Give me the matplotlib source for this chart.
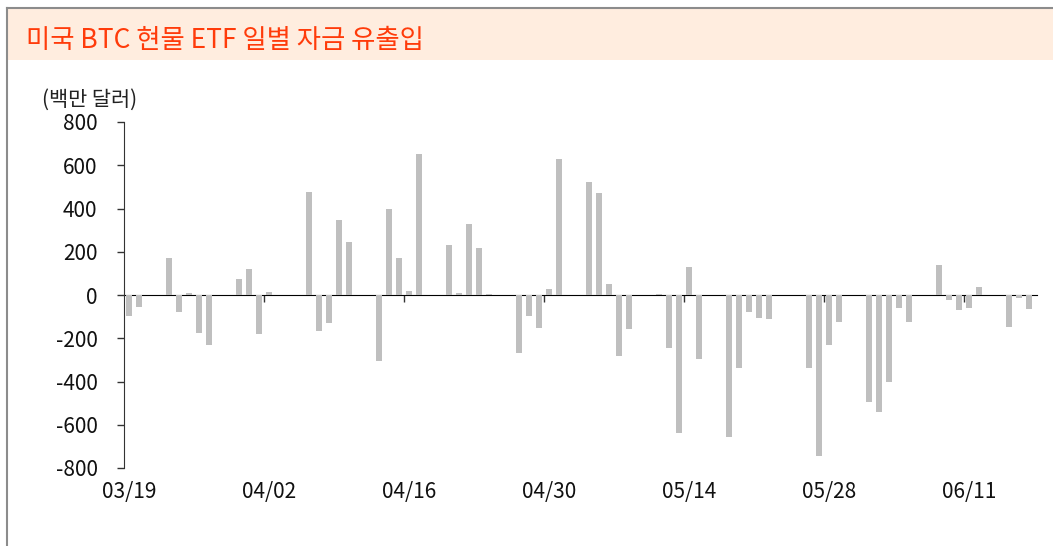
import matplotlib
matplotlib.use('Agg')
import matplotlib.pyplot as plt
from matplotlib.patches import Rectangle
from matplotlib.lines import Line2D
import pandas as pd

plt.rcParams['font.family'] = ['Noto Sans CJK KR', 'DejaVu Sans']

# 일별 자금 유출입 (백만 달러), 거래일 기준
dates = ['03/19', '03/20', '03/23', '03/24', '03/25', '03/26', '03/27',
         '03/30', '03/31', '04/01', '04/02',
         '04/06', '04/07', '04/08', '04/09', '04/10',
         '04/13', '04/14', '04/15', '04/16', '04/17',
         '04/20', '04/21', '04/22', '04/23', '04/24',
         '04/27', '04/28', '04/29', '04/30', '05/01',
         '05/04', '05/05', '05/06', '05/07', '05/08',
         '05/11', '05/12', '05/13', '05/14', '05/15',
         '05/18', '05/19', '05/20', '05/21', '05/22',
         '05/26', '05/27', '05/28', '05/29',
         '06/01', '06/02', '06/03', '06/04', '06/05',
         '06/08', '06/09', '06/10', '06/11', '06/12',
         '06/15', '06/16', '06/17']
flows = [-95, -54, 172, -78, 10, -177, -231,
         72, 121, -180, 12,
         477, -166, -128, 348, 245,
         -303, 400, 171, 17, 654,
         229, 11, 328, 218, 6,
         -268, -95, -154, 28, 631,
         524, 471, 51, -281, -157,
         3, -245, -637, 129, -295,
         -655, -337, -77, -106, -111,
         -338, -744, -229, -123,
         -495, -540, -403, -60, -123,
         140, -22, -71, -60, 35,
         -146, -14, -63]
tick_labels = ['03/19', '04/02', '04/16', '04/30', '05/14', '05/28', '06/11']
y_ticks = [-800, -600, -400, -200, 0, 200, 400, 600, 800]

title = '미국 BTC 현물 ETF 일별 자금 유출입'
unit = '(백만 달러)'

start = pd.to_datetime('2026/' + dates[0])
x = [(pd.to_datetime('2026/' + d) - start).days for d in dates]
tick_x = [(pd.to_datetime('2026/' + d) - start).days for d in tick_labels]

W, H = 1053, 546
fig = plt.figure(figsize=(W / 100, H / 100), dpi=100)

# 상단 제목 띠 + 테두리
fig.add_artist(Rectangle((8 / W, 1 - 60 / H), 1 - 8 / W, 52 / H,
                         transform=fig.transFigure, facecolor='#FFEDDF',
                         edgecolor='none', zorder=0))
fig.add_artist(Line2D([7 / W, 1], [1 - 7.5 / H, 1 - 7.5 / H],
                      transform=fig.transFigure, color='#8c8c8c', lw=1.5))
fig.add_artist(Line2D([7 / W, 7 / W], [0, 1 - 7.5 / H],
                      transform=fig.transFigure, color='#8c8c8c', lw=1.5))
fig.text(26 / W, 1 - 40 / H, title, color='#FF3B0A', fontsize=19,
         ha='left', va='center')
fig.text(90 / W, 1 - 100 / H, unit, color='#222222', fontsize=15,
         ha='center', va='center')

ax = fig.add_axes([124 / W, 1 - 468 / H, (1037 - 124) / W, 346 / H])
ax.bar(x, flows, width=0.55, color='#BFBFBF', zorder=2)

ax.set_xlim(-0.5, 90.8)
ax.set_ylim(-800, 800)
ax.set_yticks(y_ticks)
ax.set_yticklabels([str(v) for v in y_ticks])
ax.tick_params(axis='y', length=5, width=1, color='#333333',
               labelsize=15, labelcolor='#111111', pad=14)

ax.set_xticks(tick_x)
ax.set_xticklabels(tick_labels)
ax.tick_params(axis='x', length=0, labelsize=15, labelcolor='#111111', pad=9)

for s in ['top', 'right', 'bottom']:
    ax.spines[s].set_visible(False)
ax.spines['left'].set_color('#333333')

# 0선과 눈금 (범주 사이)
zero_ax = ax.secondary_xaxis(0.5)
zero_ax.set_xticks([t - 0.5 for t in tick_x[1:]])
zero_ax.set_xticklabels([])
zero_ax.tick_params(length=5, width=1, color='#333333', direction='in')
zero_ax.spines['bottom'].set_color('#333333')

fig.savefig('out.png', dpi=100)
